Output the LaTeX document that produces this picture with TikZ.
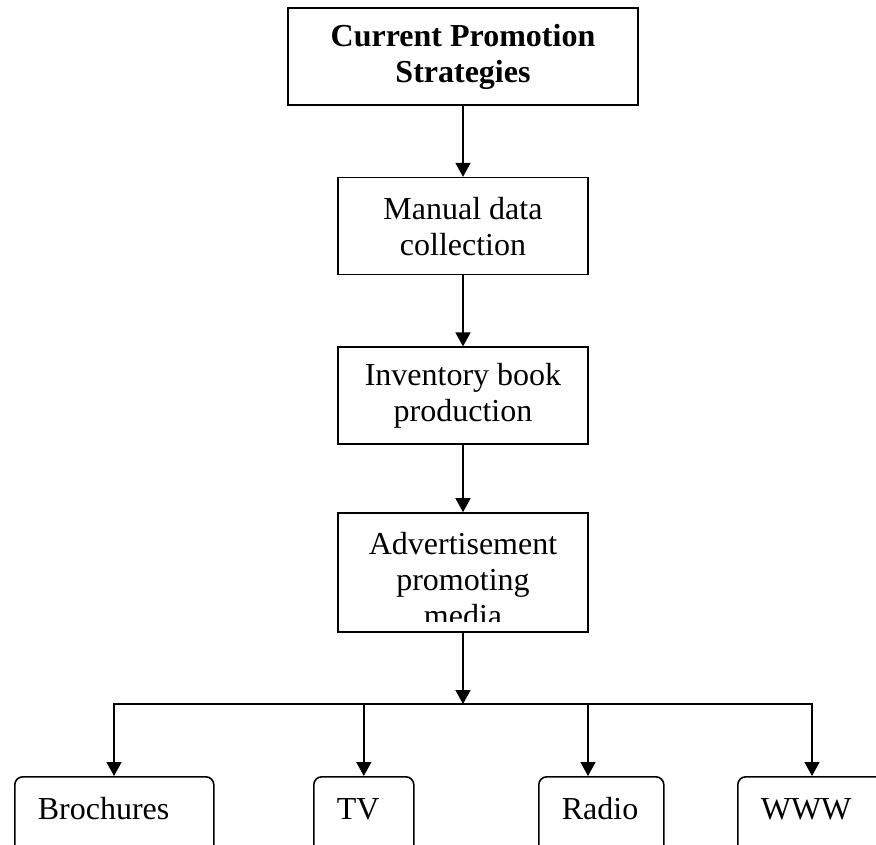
\documentclass[tikz,border=0pt]{standalone}
\usepackage{fontspec}
\setmainfont{Liberation Serif}
\usetikzlibrary{arrows.meta,positioning}
\tikzset{
  stage/.style={draw, line width=1.6pt, align=center, minimum width=250pt,
                minimum height=97pt, inner sep=4pt, font=\fontsize{32}{36}\selectfont},
  medium/.style={draw, line width=1.6pt, rounded corners=8pt, anchor=north west,
                 align=left, text width=#1, inner xsep=23pt, inner ysep=21pt,
                 text height=22pt, text depth=24pt, font=\fontsize{32}{36}\selectfont},
  link/.style={-{Triangle[length=14pt,width=15pt]}, line width=1.6pt, line join=miter},
}
\begin{document}
\begin{tikzpicture}[x=1pt, y=-1pt, node distance=71pt]
  \path[use as bounding box, clip] (0,0) rectangle (876,845);
  \node[stage, minimum width=350pt, font=\fontsize{32}{36}\selectfont\bfseries] (cps) at (463,56.5)
    {Current Promotion\\Strategies};
  \node[stage, below=of cps] (manual) {Manual data\\collection};
  \node[stage, below=of manual] (inv) {Inventory book\\production};
  \node[stage, minimum height=119pt] (ad) at (463,572.5) {};
  % its third line runs under the frame
  \begin{scope}
    \clip (338,513) rectangle (588,621);
    \node[align=center, font=\fontsize{32}{36}\selectfont] (adtext) at (463,580)
      {Advertisement\\promoting\\media};
  \end{scope}
  \draw[link] (cps) -- (manual);
  \draw[link] (manual) -- (inv);
  \draw[link] (inv) -- (ad);
  % media boxes along the bottom
  \node[medium=153pt] (bro) at (14,776) {Brochures};
  \node[medium=54pt] (tv) at (313,776) {TV};
  \node[medium=79pt] (radio) at (538,776) {Radio};
  \node[medium=104pt] (www) at (737,776) {WWW};
  \coordinate (split) at (463,704);
  \coordinate (barL) at (114,704);
  \coordinate (barR) at (812,704);
  \coordinate (radioJ) at (588,704);
  \draw[link] (ad) -- (split);
  \draw[link] (split) -- (barL) -- (barL |- bro.north);
  \draw[link] (split) -- (barR) -- (barR |- www.north);
  \draw[link] (tv.north |- split) -- (tv.north);
  \draw[link] (radioJ) -- (radioJ |- radio.north);
\end{tikzpicture}
\end{document}
